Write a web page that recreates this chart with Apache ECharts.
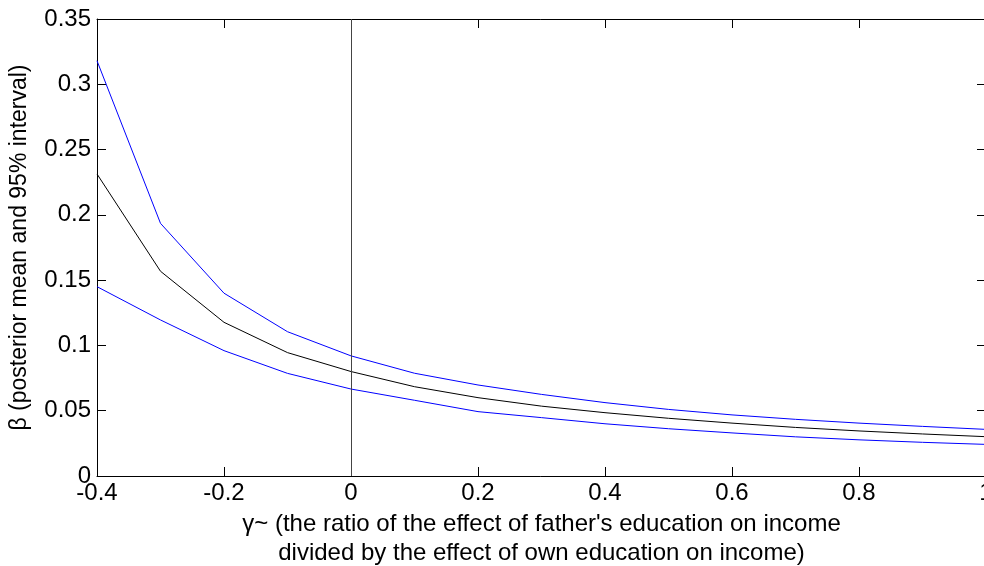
<!DOCTYPE html>
<html>
<head>
<meta charset="utf-8">
<script src="https://cdn.jsdelivr.net/npm/echarts@6/dist/echarts.min.js"></script>
<style>
html, body { margin: 0; padding: 0; background: #fff; }
#main { width: 984px; height: 566px; }
</style>
</head>
<body>
<div id="main"></div>
<script>
var gammaValues = [-0.4, -0.3, -0.2, -0.1, 0, 0.1, 0.2, 0.3, 0.4, 0.5, 0.6, 0.7, 0.8, 0.9, 1.0];
var upperBound = [0.318, 0.1935, 0.140, 0.1105, 0.092, 0.0787, 0.0697, 0.0625, 0.0562, 0.051, 0.0468, 0.0434, 0.0405, 0.038, 0.0357];
var posteriorMean = [0.2313, 0.1568, 0.1177, 0.0945, 0.080, 0.0684, 0.060, 0.0535, 0.0485, 0.0442, 0.0405, 0.0372, 0.0345, 0.0322, 0.0301];
var lowerBound = [0.145, 0.1195, 0.096, 0.0786, 0.0666, 0.058, 0.0493, 0.0447, 0.040, 0.0362, 0.0330, 0.0300, 0.0277, 0.0258, 0.0242];

var font = 'Liberation Sans, Arial, sans-serif';
var fs = 24;

function pairs(ys) {
    return gammaValues.map(function (x, i) { return [x, ys[i]]; });
}

var tickStyle = { show: true, inside: true, length: 9, lineStyle: { color: '#000', width: 1 } };
var lineStyleAxis = { show: true, onZero: false, lineStyle: { color: '#000', width: 1 } };

var option = {
    animation: false,
    backgroundColor: '#fff',
    grid: { left: 97, top: 19, width: 889, height: 457, containLabel: false, outerBoundsMode: 'none' },
    xAxis: [{
        type: 'value',
        min: -0.4,
        max: 1,
        interval: 0.2,
        axisLine: lineStyleAxis,
        axisTick: tickStyle,
        splitLine: { show: false },
        axisLabel: {
            color: '#000', fontSize: fs, fontFamily: font, margin: 5,
            formatter: function (v) { return String(Math.round(v * 10) / 10); }
        },
        name: "γ~ (the ratio of the effect of father's education on income\ndivided by the effect of own education on income)",
        nameLocation: 'middle',
        nameGap: 28,
        nameTextStyle: { color: '#000', fontSize: fs, fontFamily: font, lineHeight: 29, verticalAlign: 'top' }
    }, {
        type: 'value',
        position: 'top',
        min: -0.4,
        max: 1,
        interval: 0.2,
        axisLine: lineStyleAxis,
        axisTick: tickStyle,
        axisLabel: { show: false },
        splitLine: { show: false }
    }],
    yAxis: [{
        type: 'value',
        min: 0,
        max: 0.35,
        interval: 0.05,
        axisLine: lineStyleAxis,
        axisTick: tickStyle,
        splitLine: { show: false },
        axisLabel: {
            color: '#000', fontSize: fs, fontFamily: font, margin: 6,
            formatter: function (v) { return String(Math.round(v * 100) / 100); }
        },
        name: 'β (posterior mean and 95% interval)',
        nameLocation: 'middle',
        nameGap: 66,
        nameTextStyle: { color: '#000', fontSize: 23, fontFamily: font }
    }, {
        type: 'value',
        position: 'right',
        min: 0,
        max: 0.35,
        interval: 0.05,
        axisLine: lineStyleAxis,
        axisTick: tickStyle,
        axisLabel: { show: false },
        splitLine: { show: false }
    }],
    series: [{
        name: 'upper',
        type: 'line',
        data: pairs(upperBound),
        showSymbol: false,
        lineStyle: { color: '#0000ff', width: 1 },
        itemStyle: { color: '#0000ff' }
    }, {
        name: 'mean',
        type: 'line',
        data: pairs(posteriorMean),
        showSymbol: false,
        lineStyle: { color: '#000', width: 1 },
        itemStyle: { color: '#000' },
        markLine: {
            silent: true,
            symbol: 'none',
            label: { show: false },
            lineStyle: { color: '#444', width: 1, type: 'solid' },
            data: [{ xAxis: 0 }]
        }
    }, {
        name: 'lower',
        type: 'line',
        data: pairs(lowerBound),
        showSymbol: false,
        lineStyle: { color: '#0000ff', width: 1 },
        itemStyle: { color: '#0000ff' }
    }]
};

var myChart = echarts.init(document.getElementById('main'));
myChart.setOption(option);
</script>
</body>
</html>
